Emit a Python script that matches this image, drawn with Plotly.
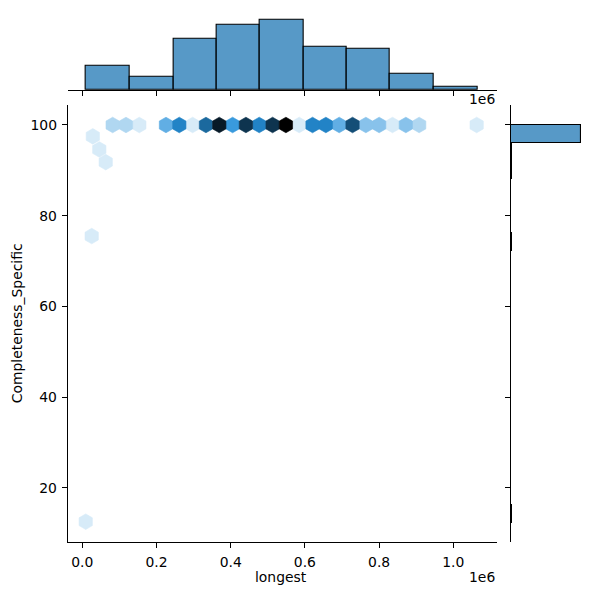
import colorsys
import numpy as np
import plotly.graph_objects as go

# ---------------- data ----------------
# hexbin cells of the joint plot: centre (longest, Completeness_Specific) and count
hex_x = [81800, 117700, 153600, 225500, 261400, 297300, 333300, 369200, 405100,
         441000, 476900, 512900, 548800, 584700, 620600, 656500, 692500, 728400,
         764300, 800200, 836100, 872100, 908000, 1063000,
         28300, 45800, 63100, 25300, 9200]
hex_y = [100, 100, 100, 100, 100, 100, 100, 100, 100,
         100, 100, 100, 100, 100, 100, 100, 100, 100,
         100, 100, 100, 100, 100, 100,
         97.5, 94.6, 91.8, 75.5, 12.5]
hex_count = [2, 2, 1, 4, 6, 1, 7, 10, 5,
             9, 6, 9, 11, 1, 6, 6, 4, 8,
             3, 3, 1, 3, 2, 1,
             1, 1, 1, 1, 1]

# marginal histogram of "longest"
x_bin_edges = [10000, 126700, 245300, 362300, 479000, 595700, 712600, 829400, 946100, 1064700]
x_bin_counts = [9, 5, 19, 24, 26, 16, 15, 6, 1]

# marginal histogram of "Completeness_Specific" (non-empty bins)
y_bin_lo = [12.3, 72.1, 88.05, 92.03, 96.01]
y_bin_hi = [16.29, 76.08, 92.03, 96.01, 100.0]
y_bin_counts = [1, 1, 1, 1, 117]

x_tick_vals = [0, 200000, 400000, 600000, 800000, 1000000]
x_tick_text = ["0.0", "0.2", "0.4", "0.6", "0.8", "1.0"]
y_tick_vals = [20, 40, 60, 80, 100]

# ---------------- styling ----------------
C0 = (31 / 255, 119 / 255, 180 / 255)
HEX_W = 35930.0   # hexagon width in data units of x
HEX_SY = 5.16     # hexbin row spacing in data units of y
FONT = "DejaVu Sans"
FS = 13.9


def set_l(rgb, l):
    h, _, s = colorsys.rgb_to_hls(*rgb)
    return colorsys.hls_to_rgb(h, l, s)


anchors = [set_l(C0, l) for l in np.linspace(1, 0, 12)]


def cmap(t):
    t = min(max(t, 0.0), 1.0)
    pos = t * (len(anchors) - 1)
    i = min(int(pos), len(anchors) - 2)
    f = pos - i
    a, b = anchors[i], anchors[i + 1]
    r, g, bl = [(a[k] * (1 - f) + b[k] * f) for k in range(3)]
    return "rgb(%d,%d,%d)" % (round(r * 255), round(g * 255), round(bl * 255))


vmax = max(hex_count)
hex_off = [(0.5, -0.5), (0.5, 0.5), (0.0, 1.0), (-0.5, 0.5), (-0.5, -0.5), (0.0, -1.0)]

fig = go.Figure()

# group hexagons by count so that each colour is one trace
for c in sorted(set(hex_count)):
    xs, ys = [], []
    for hx, hy, hc in zip(hex_x, hex_y, hex_count):
        if hc != c:
            continue
        for ox, oy in hex_off + [hex_off[0]]:
            xs.append(hx + ox * HEX_W)
            ys.append(hy + oy * HEX_SY / 3)
        xs.append(None)
        ys.append(None)
    col = cmap(c / vmax)
    fig.add_trace(go.Scatter(x=xs, y=ys, mode="lines", fill="toself",
                             fillcolor=col, line=dict(width=0.6, color=col),
                             hoverinfo="skip", showlegend=False,
                             xaxis="x", yaxis="y"))

bar_fill = "rgba(31,119,180,0.75)"
x_centres = [(a + b) / 2 for a, b in zip(x_bin_edges[:-1], x_bin_edges[1:])]
x_widths = [b - a for a, b in zip(x_bin_edges[:-1], x_bin_edges[1:])]
fig.add_trace(go.Bar(x=x_centres, y=x_bin_counts, width=x_widths,
                     marker=dict(color=bar_fill, line=dict(color="black", width=1.1)),
                     showlegend=False, xaxis="x2", yaxis="y2"))

y_centres = [(a + b) / 2 for a, b in zip(y_bin_lo, y_bin_hi)]
y_widths = [b - a for a, b in zip(y_bin_lo, y_bin_hi)]
fig.add_trace(go.Bar(y=y_centres, x=y_bin_counts, width=y_widths, orientation="h",
                     marker=dict(color=bar_fill, line=dict(color="black", width=1.1)),
                     showlegend=False, xaxis="x3", yaxis="y3"))

XD = [67.7 / 600, 496.7 / 600]
YD = [1 - 542 / 600, 1 - 105 / 600]
axis_common = dict(showgrid=False, zeroline=False, showline=True, linecolor="black",
                   linewidth=1.1, ticks="outside", ticklen=4.9, tickwidth=1.1,
                   tickcolor="black", tickfont=dict(family=FONT, size=FS, color="black"))

fig.update_layout(
    width=600, height=600, margin=dict(l=0, r=0, t=0, b=0),
    paper_bgcolor="white", plot_bgcolor="white", bargap=0,
    xaxis=dict(domain=XD, range=[-39400, 1117000], tickvals=x_tick_vals,
               ticktext=x_tick_text, anchor="y", ticklabelstandoff=2, **axis_common),
    yaxis=dict(domain=YD, range=[8.02, 104.41], tickvals=y_tick_vals,
               anchor="x", ticklabelstandoff=2, **axis_common),
    xaxis2=dict(domain=XD, matches="x", anchor="y2", tickvals=x_tick_vals,
                showticklabels=False, **axis_common),
    yaxis2=dict(domain=[1 - 90 / 600, 1 - 15.8 / 600], range=[0, max(x_bin_counts) * 1.05],
                visible=False, anchor="x2"),
    xaxis3=dict(domain=[511 / 600, 585 / 600], range=[0, max(y_bin_counts) * 1.05],
                visible=False, anchor="y3"),
    yaxis3=dict(domain=YD, matches="y", anchor="x3", tickvals=y_tick_vals,
                showticklabels=False, **axis_common),
    annotations=[
        dict(text="longest", x=280.7 / 600, y=1 - 577 / 600, xref="paper", yref="paper",
             showarrow=False, xanchor="center", yanchor="middle",
             font=dict(family=FONT, size=FS, color="black")),
        dict(text="1e6", x=496.7 / 600, y=1 - 577 / 600, xref="paper", yref="paper",
             showarrow=False, xanchor="right", yanchor="middle",
             font=dict(family=FONT, size=FS, color="black")),
        dict(text="1e6", x=496.7 / 600, y=1 - 99 / 600, xref="paper", yref="paper",
             showarrow=False, xanchor="right", yanchor="middle",
             font=dict(family=FONT, size=FS, color="black")),
        dict(text="Completeness_Specific", x=16.7 / 600, y=1 - 323.5 / 600,
             xref="paper", yref="paper", showarrow=False, textangle=-90,
             xanchor="center", yanchor="middle",
             font=dict(family=FONT, size=FS, color="black")),
    ],
)

fig.write_html("out.html")
